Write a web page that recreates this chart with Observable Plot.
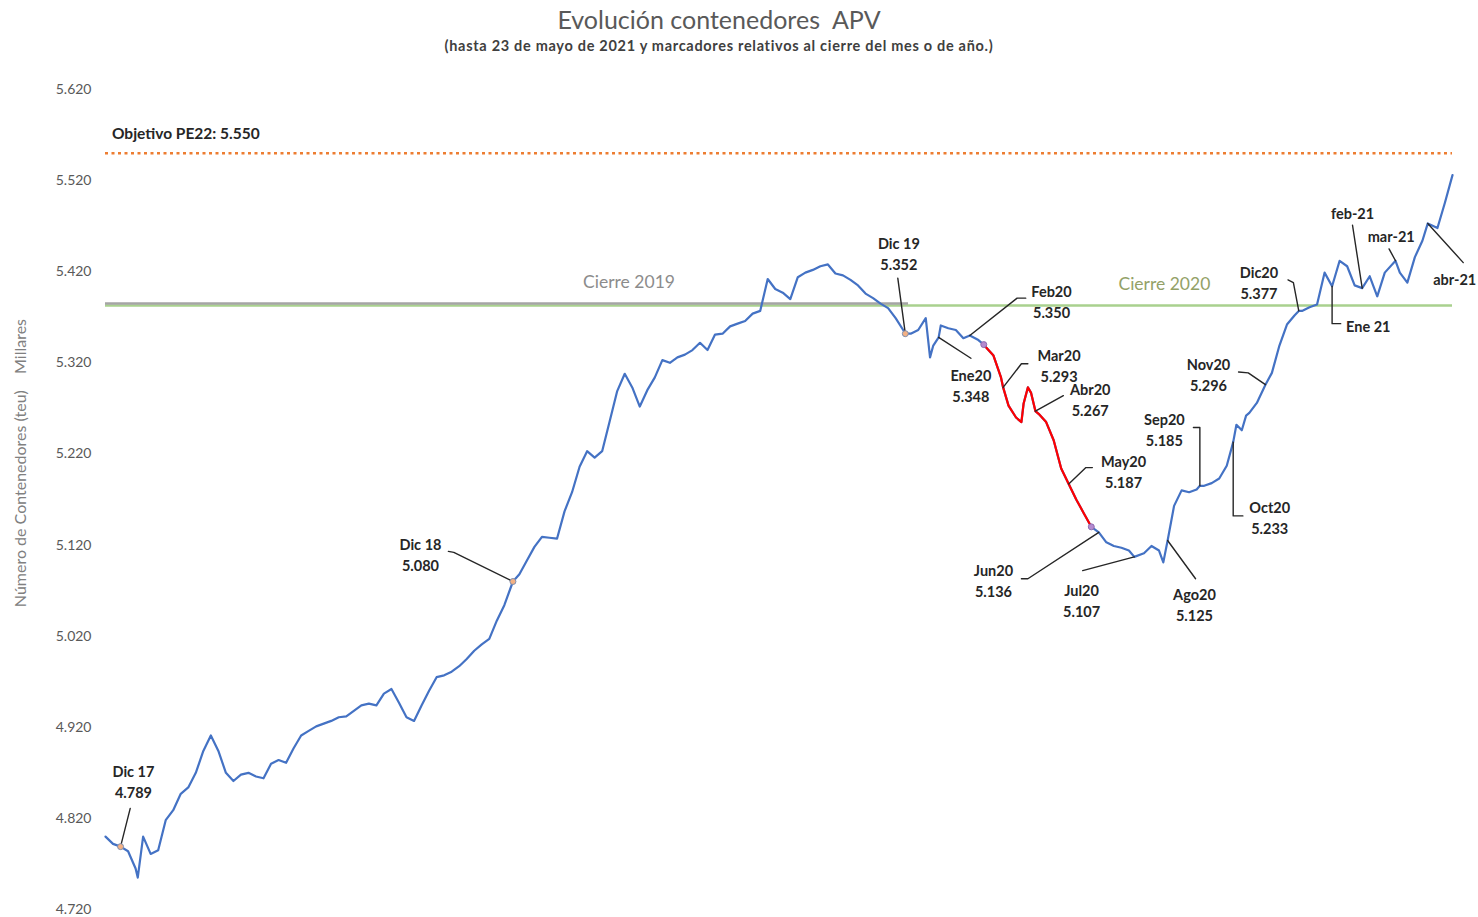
<!DOCTYPE html>
<html>
<head>
<meta charset="utf-8">
<script src="https://cdn.jsdelivr.net/npm/d3@7"></script>
<script src="https://cdn.jsdelivr.net/npm/@observablehq/plot@0.6"></script>
<style>
  body { margin: 0; background: #fff; font-family: Lato, "Open Sans", sans-serif; }
  #head { position: relative; width: 1478px; height: 60px; }
  #title { position: absolute; left: 0; width: 1438px; top: 4px; text-align: center; font-size: 25px; line-height: 30px; color: #595959; white-space: pre; }
  #subtitle { position: absolute; left: 0; width: 1438px; top: 37px; text-align: center; font-size: 14.5px; letter-spacing: 0.7px; line-height: 18px; font-weight: bold; color: #404040; white-space: pre; }
</style>
</head>
<body>
<div id="head">
  <div id="title">Evolución contenedores  APV</div>
  <div id="subtitle">(hasta 23 de mayo de 2021 y marcadores relativos al cierre del mes o de año.)</div>
</div>
<div id="chart"></div>
<script>
// ---- Data (miles de TEU, acumulado) ----
const dates = [
"2017-12-17","2017-12-24","2017-12-31","2018-01-07","2018-01-14","2018-01-16","2018-01-21","2018-01-28",
"2018-02-04","2018-02-11","2018-02-18","2018-02-25","2018-03-04","2018-03-11","2018-03-18","2018-03-25",
"2018-04-01","2018-04-08","2018-04-15","2018-04-22","2018-04-29","2018-05-06","2018-05-13","2018-05-20",
"2018-05-27","2018-06-03","2018-06-10","2018-06-17","2018-06-24","2018-07-01","2018-07-08","2018-07-15",
"2018-07-22","2018-07-29","2018-08-05","2018-08-12","2018-08-19","2018-08-26","2018-09-02","2018-09-09",
"2018-09-16","2018-09-23","2018-09-30","2018-10-07","2018-10-14","2018-10-21","2018-10-28","2018-11-04",
"2018-11-11","2018-11-18","2018-11-25","2018-12-02","2018-12-09","2018-12-16","2018-12-23","2018-12-31",
"2019-01-06","2019-01-13","2019-01-20","2019-01-27","2019-02-03","2019-02-10","2019-02-17","2019-02-24",
"2019-03-03","2019-03-10","2019-03-17","2019-03-24","2019-03-31","2019-04-07","2019-04-14","2019-04-21",
"2019-04-28","2019-05-05","2019-05-12","2019-05-19","2019-05-26","2019-06-02","2019-06-09","2019-06-16",
"2019-06-23","2019-06-30","2019-07-07","2019-07-14","2019-07-21","2019-07-28","2019-08-04","2019-08-11",
"2019-08-18","2019-08-25","2019-09-01","2019-09-08","2019-09-15","2019-09-22","2019-09-29","2019-10-06",
"2019-10-13","2019-10-20","2019-10-27","2019-11-03","2019-11-10","2019-11-17","2019-11-24","2019-12-01",
"2019-12-08","2019-12-15","2019-12-22","2019-12-29","2019-12-31","2020-01-05","2020-01-12","2020-01-19",
"2020-01-23","2020-01-26","2020-01-31","2020-02-02","2020-02-09","2020-02-16","2020-02-23","2020-02-29",
"2020-03-08","2020-03-13","2020-03-15","2020-03-22","2020-03-29","2020-03-31","2020-04-05","2020-04-12",
"2020-04-17","2020-04-19","2020-04-23","2020-04-26","2020-04-30","2020-05-03","2020-05-10","2020-05-17",
"2020-05-24","2020-05-31","2020-06-07","2020-06-14","2020-06-21","2020-06-28","2020-07-05","2020-07-12",
"2020-07-19","2020-07-26","2020-07-31","2020-08-09","2020-08-16","2020-08-23","2020-08-27","2020-08-31",
"2020-09-06","2020-09-13","2020-09-20","2020-09-27","2020-09-30","2020-10-04","2020-10-11","2020-10-18",
"2020-10-25","2020-10-31","2020-11-03","2020-11-08","2020-11-12","2020-11-15","2020-11-22","2020-11-30",
"2020-12-06","2020-12-13","2020-12-20","2020-12-27","2020-12-31","2021-01-03","2021-01-10","2021-01-17",
"2021-01-24","2021-01-31","2021-02-07","2021-02-14","2021-02-21","2021-02-28","2021-03-07","2021-03-14",
"2021-03-21","2021-03-31","2021-04-04","2021-04-11","2021-04-18","2021-04-25","2021-04-30","2021-05-09",
"2021-05-16","2021-05-23"
];
const values = [
4800,4792,4789,4784,4765,4755,4800,4781,
4785,4818,4829,4847,4854,4870,4894,4911,
4894,4870,4861,4868,4870,4866,4864,4880,
4884,4881,4897,4911,4916,4921,4924,4927,
4931,4932,4938,4944,4946,4944,4957,4962,
4947,4931,4927,4944,4960,4975,4977,4981,
4987,4995,5004,5011,5017,5037,5054,5080,
5088,5103,5118,5129,5128,5127,5157,5178,
5206,5223,5216,5223,5256,5289,5308,5293,
5272,5290,5304,5323,5320,5326,5329,5334,
5342,5334,5351,5352,5360,5363,5366,5374,
5377,5412,5401,5397,5390,5414,5419,5422,
5426,5428,5418,5416,5411,5405,5396,5391,
5385,5380,5369,5356,5352,5352,5356,5369,
5326,5339,5348,5361,5358,5356,5347,5350,
5345,5340,5337,5328,5304,5293,5273,5260,
5255,5275,5293,5287,5267,5264,5255,5235,
5204,5187,5170,5155,5140,5134,5123,5119,
5117,5114,5107,5111,5119,5114,5101,5125,
5163,5180,5178,5181,5185,5185,5188,5193,
5207,5233,5252,5246,5262,5265,5276,5296,
5309,5339,5362,5372,5377,5377,5381,5384,
5419,5404,5432,5426,5405,5402,5415,5393,
5419,5432,5419,5408,5436,5454,5473,5468,
5496,5526
];

// Periodo resaltado en rojo
const redPeriod = ["2020-03-13", "2020-06-21"];

// Líneas de referencia
const objetivoPE22 = 5550;
const cierre2019 = 5385;
const cierre2020 = 5383;
const cierre2019Until = "2020-01-03";

// Marcadores (fin de mes / año)
const markerNames = ["Dic 17","Dic 18","Dic 19","Ene20","Feb20","Mar20","Abr20","May20","Jun20","Jul20","Ago20","Sep20","Oct20","Nov20","Dic20","Ene 21","feb-21","mar-21","abr-21"];
const markerDates = ["2017-12-31","2018-12-31","2019-12-31","2020-01-31","2020-02-29","2020-03-31","2020-04-30","2020-05-31","2020-06-28","2020-07-31","2020-08-31","2020-09-30","2020-10-31","2020-11-30","2020-12-31","2021-01-31","2021-02-28","2021-03-31","2021-04-30"];
const markerValues = [4789,5080,5352,5348,5350,5293,5267,5187,5136,5107,5125,5185,5233,5296,5377,5404,5402,5432,5473];
const markerShowValue = [true,true,true,true,true,true,true,true,true,true,true,true,true,true,true,false,false,false,false];

// Posición de las etiquetas (fecha, valor, anclaje)
const labelPos = [
 ["2018-01-12",4861,"middle"],["2018-10-06",5110,"middle"],["2019-12-25",5441,"middle"],
 ["2020-03-01",5296,"middle"],["2020-05-15",5388,"middle"],["2020-05-22",5318,"middle"],
 ["2020-06-20",5281,"middle"],["2020-07-21",5202,"middle"],["2020-03-22",5082,"middle"],
 ["2020-06-12",5060,"middle"],["2020-09-25",5056,"middle"],["2020-08-28",5248,"middle"],
 ["2020-12-04",5151,"middle"],["2020-10-08",5308,"middle"],["2020-11-24",5409,"middle"],
 ["2021-02-13",5361,"start"],["2021-02-19",5485,"middle"],["2021-03-27",5460,"middle"],
 ["2021-05-05",5413,"start"]
];
// Líneas guía desde la etiqueta hasta el punto
const leaderPaths = [
 [["2018-01-09",4831],["2017-12-31",4789]],
 [["2018-11-01",5113],["2018-11-06",5112],["2018-12-31",5080]],
 [["2019-12-24",5413],["2019-12-31",5352]],
 [["2020-03-01",5325],["2020-01-31",5348]],
 [["2020-04-21",5391],["2020-04-13",5391],["2020-02-29",5350]],
 [["2020-04-23",5319],["2020-04-17",5319],["2020-03-31",5293]],
 [["2020-05-26",5284],["2020-04-30",5267]],
 [["2020-06-22",5205],["2020-06-16",5205],["2020-05-31",5187]],
 [["2020-04-17",5083],["2020-04-23",5083],["2020-06-28",5134]],
 [["2020-06-13",5092],["2020-07-31",5107]],
 [["2020-09-26",5083],["2020-08-31",5125]],
 [["2020-09-24",5249],["2020-09-30",5249],["2020-09-30",5185]],
 [["2020-11-09",5152],["2020-10-31",5152],["2020-10-31",5233]],
 [["2020-11-05",5310],["2020-11-14",5309],["2020-11-30",5296]],
 [["2020-12-21",5411],["2020-12-26",5408],["2020-12-31",5377]],
 [["2021-02-08",5363],["2021-01-31",5363],["2021-01-31",5404]],
 [["2021-02-19",5471],["2021-02-28",5402]],
 [["2021-03-25",5445],["2021-03-31",5432]],
 [["2021-06-02",5430],["2021-04-30",5473]]
];
const dotDates = ["2017-12-31","2018-12-31","2019-12-31","2020-03-13","2020-06-21"];
const dotValues = [4789,5080,5352,5340,5140];
const dotKinds = ["anual","anual","anual","covid","covid"];

const yTicks = [4720,4820,4920,5020,5120,5220,5320,5420,5520,5620];

// ---- Build ----
const fmt = d3.formatLocale({decimal: ",", thousands: ".", grouping: [3], currency: ["", " €"]}).format(",d");
const D = s => new Date(s + "T00:00:00Z");
const series = dates.map((d, i) => ({date: D(d), value: values[i]}));
const r0 = D(redPeriod[0]), r1 = D(redPeriod[1]);
const redSeries = series.filter(d => d.date >= r0 && d.date <= r1);
const start = series[0].date, end = series[series.length - 1].date;

const labels = markerNames.map((n, i) => ({
  date: D(labelPos[i][0]), value: labelPos[i][1], anchor: labelPos[i][2],
  text: markerShowValue[i] ? n + "\n" + fmt(markerValues[i]) : n
}));
const leaders = leaderPaths.flatMap((p, i) => p.map(([d, v]) => ({id: i, date: D(d), value: v})));
const dots = dotDates.map((d, i) => ({date: D(d), value: dotValues[i], kind: dotKinds[i]}));

const textColor = "#262626";
const labelSize = 14.5;
const plot = Plot.plot({
  width: 1478,
  height: 857,
  marginLeft: 105,
  marginRight: 26,
  marginTop: 29,
  marginBottom: 8,
  style: {fontFamily: "Lato, 'Open Sans', sans-serif", fontSize: "14px", color: "#595959", background: "#fff"},
  x: {type: "utc", domain: [start, end], axis: null},
  y: {domain: [4720, 5620]},
  marks: [
    Plot.axisY(yTicks, {tickSize: 0, tickPadding: 14, tickFormat: fmt, label: null, fontSize: 14, fill: "#595959"}),
    Plot.text(["Número de Contenedores (teu)\u00a0\u00a0\u00a0\u00a0Millares"], {
      frameAnchor: "left", y: () => 5210, text: d => d, textAnchor: "middle", rotate: -90, dx: -85, fontSize: 16, fill: "#808080"
    }),
    Plot.ruleY([cierre2020], {x1: start, x2: end, stroke: "#A9D18E", strokeWidth: 2.5}),
    Plot.ruleY([cierre2019], {x1: start, x2: D(cierre2019Until), stroke: "#A5A5A5", strokeWidth: 2.5}),
    Plot.ruleY([objetivoPE22], {x1: start, x2: end, stroke: "#ED7D31", strokeWidth: 2.5, strokeDasharray: "3,3.5"}),
    Plot.text(["Objetivo PE22: " + fmt(objetivoPE22)], {x: () => D("2017-12-23"), y: () => 5571, text: d => d, textAnchor: "start", fontWeight: "bold", fontSize: 15.5, fill: textColor}),
    Plot.text(["Cierre 2019"], {x: () => D("2019-04-18"), y: () => 5408, text: d => d, fontSize: 17.5, fill: "#8c8c8c"}),
    Plot.text(["Cierre 2020"], {x: () => D("2020-08-28"), y: () => 5406, text: d => d, fontSize: 17.5, fill: "#93a167"}),
    Plot.line(series, {x: "date", y: "value", stroke: "#4472C4", strokeWidth: 2.2, curve: "linear"}),
    Plot.line(redSeries, {x: "date", y: "value", stroke: "#FF0000", strokeWidth: 2.2}),
    Plot.line(leaders, {x: "date", y: "value", z: "id", stroke: "#262626", strokeWidth: 1.4}),
    Plot.dot(dots, {x: "date", y: "value", r: 3, fill: d => d.kind === "covid" ? "#B48AD0" : "#F4B183", stroke: d => d.kind === "covid" ? "#8E6BB0" : "#7f8fb0", strokeWidth: 1}),
    Plot.text(labels.filter(d => d.anchor === "middle"), {x: "date", y: "value", text: "text", textAnchor: "middle", lineHeight: 1.45, fontWeight: "bold", fontSize: labelSize, fill: textColor}),
    Plot.text(labels.filter(d => d.anchor === "start"), {x: "date", y: "value", text: "text", textAnchor: "start", lineHeight: 1.45, fontWeight: "bold", fontSize: labelSize, fill: textColor})
  ]
});
document.getElementById("chart").appendChild(plot);
</script>
</body>
</html>
